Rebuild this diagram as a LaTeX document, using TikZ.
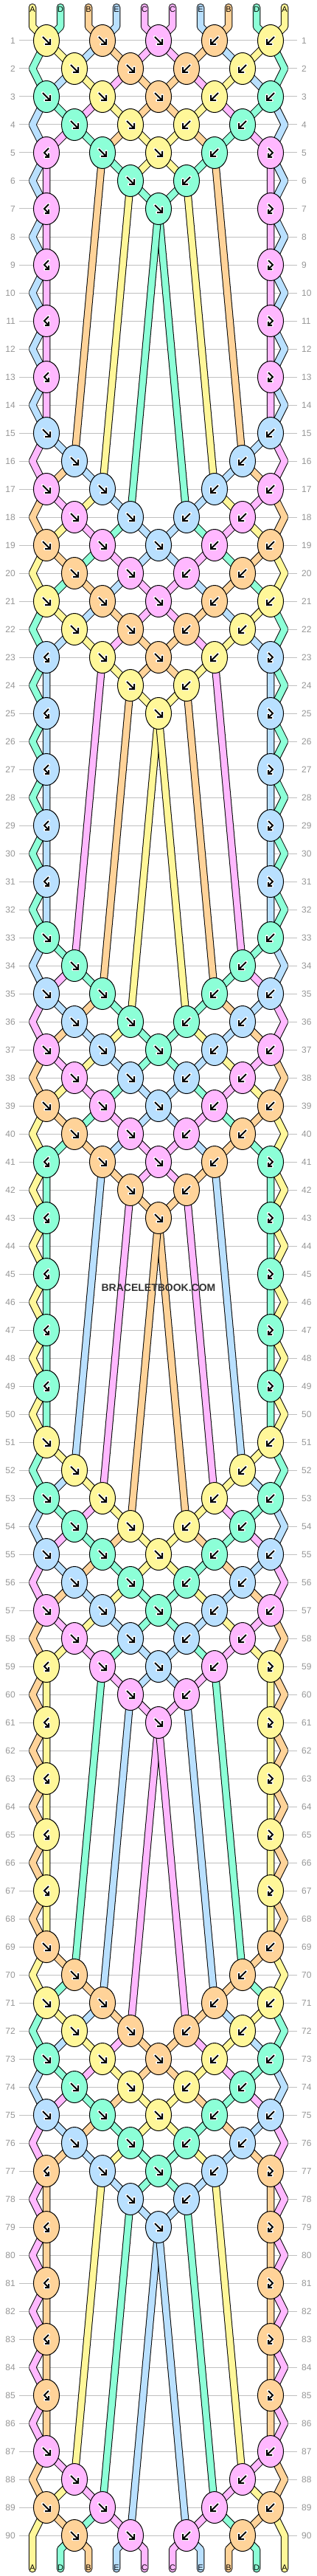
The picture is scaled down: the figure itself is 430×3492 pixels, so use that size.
\documentclass[tikz,border=0pt]{standalone}
\usepackage{fontspec}
\setmainfont{Liberation Sans}
\usetikzlibrary{shapes.geometric}
\definecolor{cA}{RGB}{255,247,153}
\definecolor{cB}{RGB}{255,211,153}
\definecolor{cC}{RGB}{255,184,255}
\definecolor{cD}{RGB}{140,255,215}
\definecolor{cE}{RGB}{185,224,255}
\definecolor{gridgray}{RGB}{192,192,192}
\definecolor{labelgray}{RGB}{150,150,150}
\definecolor{markgray}{RGB}{51,51,51}
\pgfdeclarelayer{gridlayer}
\pgfdeclarelayer{threadlayer}
\pgfsetlayers{gridlayer,threadlayer,main}
\newcommand\setcs[2]{\expandafter\xdef\csname #1\endcsname{#2}}
\newcommand\getcs[1]{\csname #1\endcsname}
\def\tyf{f}\def\tyb{b}\def\tybf{bf}\def\tyfb{fb}
\tikzset{
  knot/.style={ellipse,draw=black,line width=1pt,minimum width=35pt,minimum height=43pt,inner sep=0pt},
  gridline/.style={draw=gridgray,line width=1pt},
  rowlabel/.style={text=labelgray,font=\fontsize{12}{12}\selectfont,inner sep=0pt},
  endlabel/.style={text=black,font=\fontsize{11}{11}\selectfont,inner sep=0pt},
  threadout/.style={draw=black,line width=10.5pt,line cap=round,line join=bevel},
  threadin/.style={line width=8.5pt,line cap=round,line join=bevel},
  arrhalo/.style={draw=white,line width=4pt,line cap=round,line join=round},
  arrline/.style={draw=black,line width=2pt,line cap=butt,line join=miter},
  wmark/.style={text=markgray,font=\bfseries\fontsize{14}{14}\selectfont,inner sep=0pt}
}
% knot sets per phase t = (r+3) mod 18
\setcs{ks0}{1/f,5/b}
\setcs{ks1}{1/f,4/b}
\setcs{ks2}{1/f,2/f,4/b,5/b}
\setcs{ks3}{1/f,2/f,3/b,4/b}
\setcs{ks4}{1/f,2/f,3/f,4/b,5/b}
\setcs{ks5}{1/f,2/f,3/b,4/b}
\setcs{ks6}{1/f,2/f,3/f,4/b,5/b}
\setcs{ks7}{1/f,2/f,3/b,4/b}
\setcs{ks8}{1/bf,2/f,3/f,4/b,5/fb}
\setcs{ks9}{2/f,3/b}
\setcs{ks10}{1/bf,3/f,5/fb}
\setcs{ks11}{}
\setcs{ks12}{1/bf,5/fb}
\setcs{ks13}{}
\setcs{ks14}{1/bf,5/fb}
\setcs{ks15}{}
\setcs{ks16}{1/bf,5/fb}
\setcs{ks17}{}
\newcommand\arrowshape[1]{%
  \edef\aty{#1}%
  \ifx\aty\tyf \def\apath{(-5,-5) -- (5,5) (5,-2) -- (5,5) -- (-2,5)}\fi
  \ifx\aty\tyb \def\apath{(5,-5) -- (-5,5) (-5,-2) -- (-5,5) -- (2,5)}\fi
  \ifx\aty\tybf \def\apath{(3,-6) -- (-3,0) -- (3,6) (3,1) -- (3,6) -- (-2,6)}\fi
  \ifx\aty\tyfb \def\apath{(-3,-6) -- (3,0) -- (-3,6) (-3,1) -- (-3,6) -- (2,6)}\fi
}
\newcommand\doknot[4]{% row, slot, type, y
  \ifodd#1\relax
    \pgfmathtruncatemacro\kx{-13+76*#2}%
    \pgfmathtruncatemacro\pL{2*#2-1}%
  \else
    \pgfmathtruncatemacro\kx{25+76*#2}%
    \pgfmathtruncatemacro\pL{2*#2}%
  \fi
  \pgfmathtruncatemacro\pR{\pL+1}%
  \edef\idL{\getcs{pos\pL}}%
  \edef\idR{\getcs{pos\pR}}%
  \edef\ty{#3}%
  \edef\kc{\getcs{tcol\idL}}%
  \ifx\ty\tyb \edef\kc{\getcs{tcol\idR}}\fi
  \ifx\ty\tybf \edef\kc{\getcs{tcol\idR}}\fi
  \node[knot,fill=\kc] (k-#1-#2) at (\kx,#4) {};
  \arrowshape{\ty}%
  \edef\tmp{\noexpand\draw[arrhalo,shift={(\kx,#4)}] \apath; \noexpand\draw[arrline,shift={(\kx,#4)}] \apath;}\tmp
  \setcs{tp\idL}{\getcs{tp\idL} -- (k-#1-#2.center)}%
  \setcs{tp\idR}{\getcs{tp\idR} -- (k-#1-#2.center)}%
  \ifx\ty\tyf \setcs{pos\pL}{\idR}\setcs{pos\pR}{\idL}\fi
  \ifx\ty\tyb \setcs{pos\pL}{\idR}\setcs{pos\pR}{\idL}\fi
}
\begin{document}
\begin{tikzpicture}[x=1pt,y=-1pt]
\useasboundingbox (0,0) rectangle (430,3492);
\foreach \p/\L/\c in {1/A/cA,2/D/cD,3/B/cB,4/E/cE,5/C/cC,6/C/cC,7/E/cE,8/B/cB,9/D/cD,10/A/cA}{%
  \setcs{pos\p}{\p}\setcs{tcol\p}{\c}\setcs{tlet\p}{\L}%
  \pgfmathtruncatemacro\xp{6+38*\p}%
  \coordinate (s-\p) at (\xp,10);
  \coordinate (sb-\p) at (\xp,36);
  \node[endlabel] (top-\p) at (\xp,12.5) {\L};
  \setcs{tp\p}{(s-\p) -- (sb-\p)}%
}
\foreach \r in {1,...,90}{%
  \pgfmathtruncatemacro\t{mod(\r+3,18)}%
  \pgfmathtruncatemacro\y{17+38*\r}%
  \begin{pgfonlayer}{gridlayer}
    \draw[gridline] (26,\y) -- (403,\y);
  \end{pgfonlayer}
  \node[rowlabel,anchor=east] (rl-\r) at (21,\y) {\r};
  \node[rowlabel,anchor=west] (rr-\r) at (409,\y) {\r};
  \edef\klist{\getcs{ks\t}}%
  \ifx\klist\empty\else
    \foreach \kk/\kt in \klist {\doknot{\r}{\kk}{\kt}{\y}}%
  \fi
  \ifodd\r\else
    \coordinate (z-\r-1) at (44,\y);
    \coordinate (z-\r-10) at (386,\y);
    \edef\ida{\getcs{pos1}}%
    \setcs{tp\ida}{\getcs{tp\ida} -- (z-\r-1)}%
    \edef\idb{\getcs{pos10}}%
    \setcs{tp\idb}{\getcs{tp\idb} -- (z-\r-10)}%
  \fi
}
\foreach \p in {1,...,10}{%
  \edef\id{\getcs{pos\p}}%
  \pgfmathtruncatemacro\xp{6+38*\p}%
  \coordinate (e-\p) at (\xp,3456);
  \coordinate (eb-\p) at (\xp,3482);
  \setcs{tp\id}{\getcs{tp\id} -- (e-\p) -- (eb-\p)}%
  \node[endlabel] (bot-\p) at (\xp,3480.5) {\getcs{tlet\id}};
}
\begin{pgfonlayer}{threadlayer}
\foreach \id in {1,...,10}{%
  \edef\tmp{\noexpand\draw[threadout] \getcs{tp\id}; \noexpand\draw[threadin,draw=\getcs{tcol\id}] \getcs{tp\id};}\tmp
}
\end{pgfonlayer}
\node[wmark] (wm) at (215,1746) {BRACELETBOOK.COM};
\end{tikzpicture}
\end{document}
